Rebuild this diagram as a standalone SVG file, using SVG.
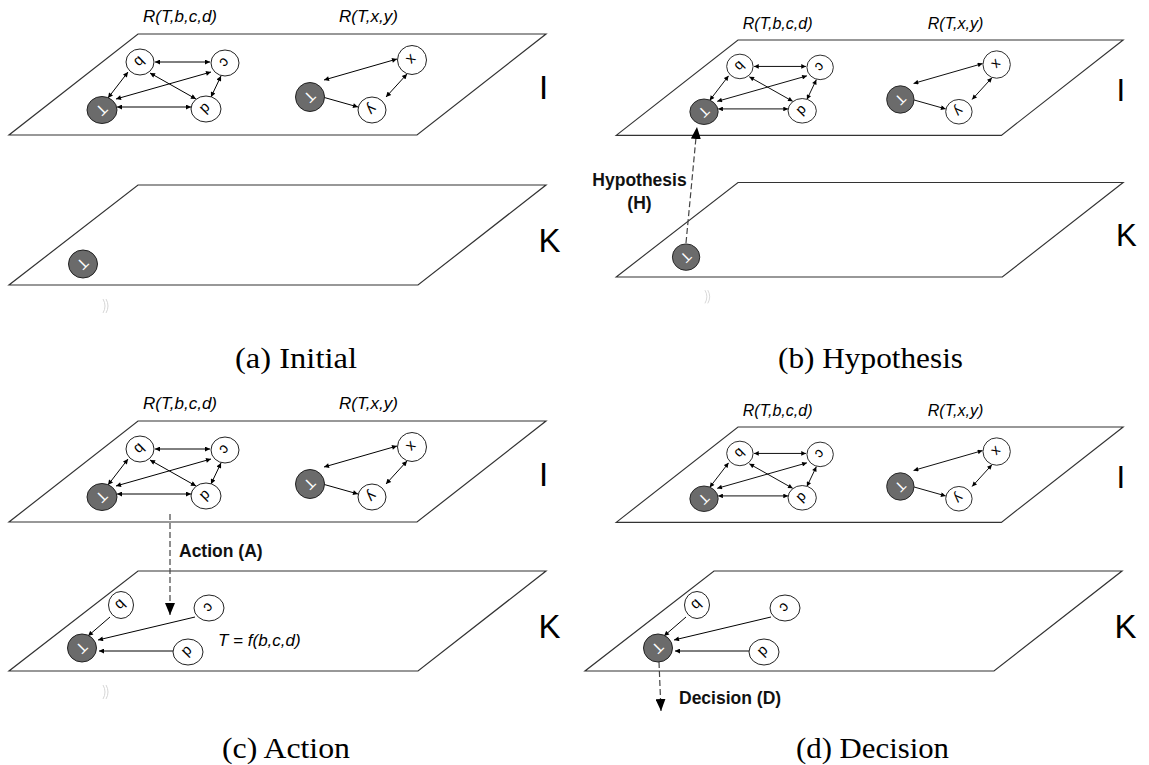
<svg xmlns="http://www.w3.org/2000/svg" width="1149" height="765" viewBox="0 0 1149 765">
<style>
.plane{fill:#fff;stroke:#333;stroke-width:1.2}
.n{fill:#fff;stroke:#222;stroke-width:1}
.t{fill:#6b6b6b;stroke:#222;stroke-width:1}
.lb{font-family:'Liberation Sans',Arial,sans-serif;font-size:15px;text-anchor:middle;dominant-baseline:central;fill:#000}
.lw{fill:#fff}
.e{stroke:#000;stroke-width:1;fill:none;marker-start:url(#ah);marker-end:url(#ah)}
.e1{stroke:#000;stroke-width:1;fill:none;marker-end:url(#ah)}
.rl{font-family:'Liberation Sans',Arial,sans-serif;font-style:italic;font-size:17px;fill:#000}
.big{font-family:'Liberation Sans',Arial,sans-serif;font-size:33px;text-anchor:middle;fill:#000}
.dash{stroke:#444;stroke-width:1.2;stroke-dasharray:6 3;fill:none;marker-end:url(#bh)}
.bl{font-family:'Liberation Sans',Arial,sans-serif;font-weight:bold;font-size:17.5px;fill:#111}
.cap{font-family:'Liberation Serif','Times New Roman',serif;font-size:28.7px;fill:#000}
.ghost{stroke:#ccc;stroke-width:0.8;fill:none}
</style>
<defs>
<marker id="ah" viewBox="0 0 10 10" refX="10" refY="5" markerWidth="7" markerHeight="5" orient="auto-start-reverse" markerUnits="userSpaceOnUse"><path d="M0,0 L10,5 L0,10 z" fill="#000"/></marker>
<marker id="bh" viewBox="0 0 12 10" refX="12" refY="5" markerWidth="12" markerHeight="10" orient="auto" markerUnits="userSpaceOnUse"><path d="M0,0 L12,5 L0,10 z" fill="#000"/></marker>
</defs>

<!-- Panel (a) -->
<g id="panel-a">
<g id="a-I-plane"><polygon class="plane" points="138,34 546,34 417,135 9,135"/>
<text class="rl" x="143" y="22">R(T,b,c,d)</text><text class="rl" x="339" y="22">R(T,x,y)</text>
<text class="big" x="543.5" y="99">I</text></g>
<g id="a-K-plane"><polygon class="plane" points="138,185 546,185 418,285 9,285"/>
<text class="big" x="549.5" y="252">K</text></g>
<g id="a-edges">
<line class="e" x1="155" y1="62" x2="210" y2="62"/>
<line class="e" x1="128" y1="72" x2="108" y2="98"/>
<line class="e" x1="150" y1="73" x2="196" y2="99"/>
<line class="e" x1="211" y1="72" x2="116" y2="99"/>
<line class="e" x1="221" y1="76" x2="211" y2="97"/>
<line class="e" x1="117" y1="107" x2="191" y2="107"/>
<line class="e" x1="324" y1="80" x2="397" y2="59"/>
<line class="e" x1="319" y1="96" x2="358" y2="107"/>
<line class="e" x1="407" y1="74" x2="386" y2="97"/>
</g>
<g id="a-b"><ellipse class="n" cx="140" cy="62" rx="14" ry="13"/><text class="lb" transform="rotate(135 140 62)" x="140" y="62">b</text></g>
<g id="a-c"><ellipse class="n" cx="225" cy="63" rx="14" ry="13"/><text class="lb" transform="rotate(135 225 63)" x="225" y="63">c</text></g>
<g id="a-T"><ellipse class="t" cx="102" cy="110" rx="15" ry="13.5"/><text class="lb lw" transform="rotate(135 102 110)" x="102" y="110">T</text></g>
<g id="a-d"><ellipse class="n" cx="206" cy="109" rx="15" ry="13"/><text class="lb" transform="rotate(135 206 109)" x="206" y="109">d</text></g>
<g id="a-T2"><ellipse class="t" cx="310" cy="97" rx="14.5" ry="14.5"/><text class="lb lw" transform="rotate(135 310 97)" x="310" y="97">T</text></g>
<g id="a-x"><ellipse class="n" cx="412" cy="60" rx="14.5" ry="14.5"/><text class="lb" transform="rotate(135 412 60)" x="412" y="60">x</text></g>
<g id="a-y"><ellipse class="n" cx="372" cy="110" rx="14" ry="13"/><text class="lb" transform="rotate(135 372 110)" x="372" y="110">y</text></g>
<g id="a-KT"><ellipse class="t" cx="83" cy="264" rx="14.5" ry="14"/><text class="lb lw" transform="rotate(135 83 264)" x="83" y="264">T</text></g>
<path class="ghost" d="M103,299 q4,7 0,14 M106,299 q4,7 0,14"/>
<text class="cap" x="235" y="368" textLength="122" lengthAdjust="spacingAndGlyphs">(a) Initial</text>
</g>

<!-- Panel (b) -->
<g id="panel-b">
<g transform="translate(738,40) scale(0.944) translate(-138,-34)">
<g id="b-I-plane"><polygon class="plane" points="138,34 546,34 417,135 9,135"/>
<text class="rl" x="143" y="22">R(T,b,c,d)</text><text class="rl" x="339" y="22">R(T,x,y)</text>
<text class="big" x="543.5" y="99">I</text></g>
<g id="b-K-plane"><polygon class="plane" points="138,185 546,185 418,285 9,285"/>
<text class="big" x="549.5" y="252">K</text></g>
<g id="b-edges">
<line class="e" x1="155" y1="62" x2="210" y2="62"/>
<line class="e" x1="128" y1="72" x2="108" y2="98"/>
<line class="e" x1="150" y1="73" x2="196" y2="99"/>
<line class="e" x1="211" y1="72" x2="116" y2="99"/>
<line class="e" x1="221" y1="76" x2="211" y2="97"/>
<line class="e" x1="117" y1="107" x2="191" y2="107"/>
<line class="e" x1="324" y1="80" x2="397" y2="59"/>
<line class="e" x1="319" y1="96" x2="358" y2="107"/>
<line class="e" x1="407" y1="74" x2="386" y2="97"/>
</g>
<g id="b-b"><ellipse class="n" cx="140" cy="62" rx="14" ry="13"/><text class="lb" transform="rotate(135 140 62)" x="140" y="62">b</text></g>
<g id="b-c"><ellipse class="n" cx="225" cy="63" rx="14" ry="13"/><text class="lb" transform="rotate(135 225 63)" x="225" y="63">c</text></g>
<g id="b-T"><ellipse class="t" cx="102" cy="110" rx="15" ry="13.5"/><text class="lb lw" transform="rotate(135 102 110)" x="102" y="110">T</text></g>
<g id="b-d"><ellipse class="n" cx="206" cy="109" rx="15" ry="13"/><text class="lb" transform="rotate(135 206 109)" x="206" y="109">d</text></g>
<g id="b-T2"><ellipse class="t" cx="310" cy="97" rx="14.5" ry="14.5"/><text class="lb lw" transform="rotate(135 310 97)" x="310" y="97">T</text></g>
<g id="b-x"><ellipse class="n" cx="412" cy="60" rx="14.5" ry="14.5"/><text class="lb" transform="rotate(135 412 60)" x="412" y="60">x</text></g>
<g id="b-y"><ellipse class="n" cx="372" cy="110" rx="14" ry="13"/><text class="lb" transform="rotate(135 372 110)" x="372" y="110">y</text></g>
<g id="b-KT"><ellipse class="t" cx="83" cy="264" rx="14.5" ry="14"/><text class="lb lw" transform="rotate(135 83 264)" x="83" y="264">T</text></g>
<path class="ghost" d="M103,299 q4,7 0,14 M106,299 q4,7 0,14"/>
</g>
<g id="b-hyp-edge"><line class="dash" x1="686" y1="243" x2="697" y2="127"/></g>
<text class="bl" x="639.5" y="186" text-anchor="middle" font-size="16.5">Hypothesis</text>
<text class="bl" x="639.5" y="209" text-anchor="middle" font-size="16.5">(H)</text>
<text class="cap" x="778" y="368" textLength="185" lengthAdjust="spacingAndGlyphs">(b) Hypothesis</text>
</g>

<!-- Panel (c) -->
<g id="panel-c">
<g id="c-I-plane"><polygon class="plane" points="138,421 546,421 417,522 9,522"/>
<text class="rl" x="143" y="409">R(T,b,c,d)</text><text class="rl" x="339" y="409">R(T,x,y)</text>
<text class="big" x="543.5" y="486">I</text></g>
<g id="c-K-plane"><polygon class="plane" points="138,571 546,571 418,671 9,671"/>
<text class="big" x="549.5" y="638">K</text>
<text class="rl" x="218" y="646" font-size="17.5">T = f(b,c,d)</text></g>
<g id="c-edges">
<line class="e" x1="155" y1="449" x2="210" y2="449"/>
<line class="e" x1="128" y1="459" x2="108" y2="485"/>
<line class="e" x1="150" y1="460" x2="196" y2="486"/>
<line class="e" x1="211" y1="459" x2="116" y2="486"/>
<line class="e" x1="221" y1="463" x2="211" y2="484"/>
<line class="e" x1="117" y1="494" x2="191" y2="494"/>
<line class="e" x1="324" y1="467" x2="397" y2="446"/>
<line class="e" x1="319" y1="483" x2="358" y2="494"/>
<line class="e" x1="407" y1="461" x2="386" y2="484"/>
<line class="e1" x1="110" y1="617" x2="88" y2="636"/>
<line class="e1" x1="195" y1="617" x2="98" y2="640"/>
<line class="e1" x1="173" y1="651" x2="99" y2="651"/>
<line class="dash" x1="170" y1="514" x2="170" y2="615"/>
</g>
<g id="c-b"><ellipse class="n" cx="140" cy="449" rx="14" ry="13"/><text class="lb" transform="rotate(135 140 449)" x="140" y="449">b</text></g>
<g id="c-c"><ellipse class="n" cx="225" cy="450" rx="14" ry="13"/><text class="lb" transform="rotate(135 225 450)" x="225" y="450">c</text></g>
<g id="c-T"><ellipse class="t" cx="102" cy="497" rx="15" ry="13.5"/><text class="lb lw" transform="rotate(135 102 497)" x="102" y="497">T</text></g>
<g id="c-d"><ellipse class="n" cx="206" cy="496" rx="15" ry="13"/><text class="lb" transform="rotate(135 206 496)" x="206" y="496">d</text></g>
<g id="c-T2"><ellipse class="t" cx="310" cy="484" rx="14.5" ry="14.5"/><text class="lb lw" transform="rotate(135 310 484)" x="310" y="484">T</text></g>
<g id="c-x"><ellipse class="n" cx="412" cy="447" rx="14.5" ry="14.5"/><text class="lb" transform="rotate(135 412 447)" x="412" y="447">x</text></g>
<g id="c-y"><ellipse class="n" cx="372" cy="497" rx="14" ry="13"/><text class="lb" transform="rotate(135 372 497)" x="372" y="497">y</text></g>
<g id="c-Kb"><ellipse class="n" cx="121" cy="605" rx="12.5" ry="13.5"/><text class="lb" transform="rotate(135 121 605)" x="121" y="605">b</text></g>
<g id="c-Kc"><ellipse class="n" cx="209" cy="608" rx="15" ry="13"/><text class="lb" transform="rotate(135 209 608)" x="209" y="608">c</text></g>
<g id="c-KT"><ellipse class="t" cx="82" cy="648" rx="14.5" ry="14"/><text class="lb lw" transform="rotate(135 82 648)" x="82" y="648">T</text></g>
<g id="c-Kd"><ellipse class="n" cx="188" cy="652" rx="15" ry="13"/><text class="lb" transform="rotate(135 188 652)" x="188" y="652">d</text></g>
<text class="bl" x="179" y="557">Action (A)</text>
<path class="ghost" d="M103,685 q4,7 0,14 M106,685 q4,7 0,14"/>
<text class="cap" x="222" y="758" textLength="128" lengthAdjust="spacingAndGlyphs">(c) Action</text>
</g>

<!-- Panel (d) -->
<g id="panel-d">
<g transform="translate(738,427) scale(0.944) translate(-138,-34)">
<g id="d-I-plane"><polygon class="plane" points="138,34 546,34 417,135 9,135"/>
<text class="rl" x="143" y="22">R(T,b,c,d)</text><text class="rl" x="339" y="22">R(T,x,y)</text>
<text class="big" x="543.5" y="99">I</text></g>
<g id="d-edges">
<line class="e" x1="155" y1="62" x2="210" y2="62"/>
<line class="e" x1="128" y1="72" x2="108" y2="98"/>
<line class="e" x1="150" y1="73" x2="196" y2="99"/>
<line class="e" x1="211" y1="72" x2="116" y2="99"/>
<line class="e" x1="221" y1="76" x2="211" y2="97"/>
<line class="e" x1="117" y1="107" x2="191" y2="107"/>
<line class="e" x1="324" y1="80" x2="397" y2="59"/>
<line class="e" x1="319" y1="96" x2="358" y2="107"/>
<line class="e" x1="407" y1="74" x2="386" y2="97"/>
</g>
<g id="d-b"><ellipse class="n" cx="140" cy="62" rx="14" ry="13"/><text class="lb" transform="rotate(135 140 62)" x="140" y="62">b</text></g>
<g id="d-c"><ellipse class="n" cx="225" cy="63" rx="14" ry="13"/><text class="lb" transform="rotate(135 225 63)" x="225" y="63">c</text></g>
<g id="d-T"><ellipse class="t" cx="102" cy="110" rx="15" ry="13.5"/><text class="lb lw" transform="rotate(135 102 110)" x="102" y="110">T</text></g>
<g id="d-d"><ellipse class="n" cx="206" cy="109" rx="15" ry="13"/><text class="lb" transform="rotate(135 206 109)" x="206" y="109">d</text></g>
<g id="d-T2"><ellipse class="t" cx="310" cy="97" rx="14.5" ry="14.5"/><text class="lb lw" transform="rotate(135 310 97)" x="310" y="97">T</text></g>
<g id="d-x"><ellipse class="n" cx="412" cy="60" rx="14.5" ry="14.5"/><text class="lb" transform="rotate(135 412 60)" x="412" y="60">x</text></g>
<g id="d-y"><ellipse class="n" cx="372" cy="110" rx="14" ry="13"/><text class="lb" transform="rotate(135 372 110)" x="372" y="110">y</text></g>
</g>
<g id="d-K-plane"><polygon class="plane" points="714,571 1122,571 994,671 585,671"/>
<text class="big" x="1125.5" y="638">K</text></g>
<g id="d-K-edges">
<line class="e1" x1="686" y1="617" x2="664" y2="636"/>
<line class="e1" x1="771" y1="617" x2="674" y2="640"/>
<line class="e1" x1="749" y1="651" x2="675" y2="651"/>
<line class="dash" x1="659" y1="662" x2="661" y2="711"/>
</g>
<g id="d-Kb"><ellipse class="n" cx="697" cy="605" rx="12.5" ry="13.5"/><text class="lb" transform="rotate(135 697 605)" x="697" y="605">b</text></g>
<g id="d-Kc"><ellipse class="n" cx="785" cy="608" rx="15" ry="13"/><text class="lb" transform="rotate(135 785 608)" x="785" y="608">c</text></g>
<g id="d-KT"><ellipse class="t" cx="658" cy="648" rx="14.5" ry="14"/><text class="lb lw" transform="rotate(135 658 648)" x="658" y="648">T</text></g>
<g id="d-Kd"><ellipse class="n" cx="764" cy="652" rx="15" ry="13"/><text class="lb" transform="rotate(135 764 652)" x="764" y="652">d</text></g>
<text class="bl" x="679" y="704">Decision (D)</text>
<text class="cap" x="796" y="758" textLength="153" lengthAdjust="spacingAndGlyphs">(d) Decision</text>
</g>
</svg>
